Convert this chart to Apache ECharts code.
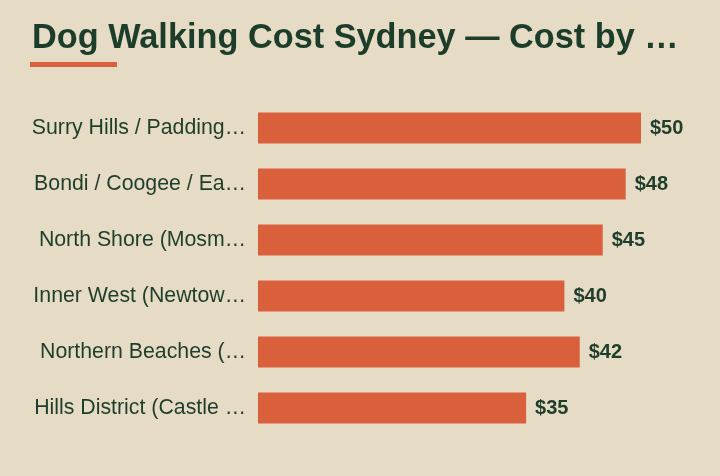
<!DOCTYPE html>
<html lang="en">
<head>
    <meta charset="UTF-8">
    <title>Dog Walking Cost Sydney</title>
    <script src="https://cdn.jsdelivr.net/npm/echarts@6/dist/echarts.min.js"></script>
    <style>
        html, body { margin: 0; padding: 0; background: #e6dcc5; }
    </style>
</head>
<body>
<div id="main" style="width:720px;height:476px;"></div>
<script type="text/javascript">
    // areas, top to bottom, as they read on the chart (already cut short)
    var regions = [
        'Surry Hills / Padding\u2026',
        'Bondi / Coogee / Ea\u2026',
        'North Shore (Mosm\u2026',
        'Inner West (Newtow\u2026',
        'Northern Beaches (\u2026',
        'Hills District (Castle \u2026'
    ];
    // cost per walk, AUD
    var costs = [50, 48, 45, 40, 42, 35];

    var myChart = echarts.init(document.getElementById('main'));

    var option = {
        backgroundColor: '#e6dcc5',
        title: {
            text: 'Dog Walking Cost Sydney \u2014 Cost by \u2026',
            left: 27,
            top: 17,
            textStyle: {
                fontFamily: 'Liberation Sans',
                fontWeight: 'bold',
                fontSize: 34.3,
                color: '#1c3d2a'
            }
        },
        graphic: [{
            type: 'rect',
            shape: {x: 30, y: 62, width: 87, height: 5},
            style: {fill: '#d9603b'}
        }],
        grid: {
            left: 258,
            right: 79,
            top: 100,
            bottom: 40,
            containLabel: false
        },
        xAxis: {
            type: 'value',
            min: 0,
            max: 50,
            show: false
        },
        yAxis: {
            type: 'category',
            data: regions,
            inverse: true,
            axisLine: {show: false},
            axisTick: {show: false},
            splitLine: {show: false},
            axisLabel: {
                margin: 12,
                fontFamily: 'Liberation Sans',
                fontSize: 21.3,
                color: '#1f3d2b'
            }
        },
        series: [{
            type: 'bar',
            data: costs,
            barWidth: 31,
            itemStyle: {color: '#d9603b'},
            label: {
                show: true,
                position: 'right',
                distance: 9,
                formatter: '${c}',
                fontFamily: 'Liberation Sans',
                fontWeight: 'bold',
                fontSize: 20,
                color: '#1f3d2b'
            },
            silent: true
        }]
    };

    myChart.setOption(option);
</script>
</body>
</html>
